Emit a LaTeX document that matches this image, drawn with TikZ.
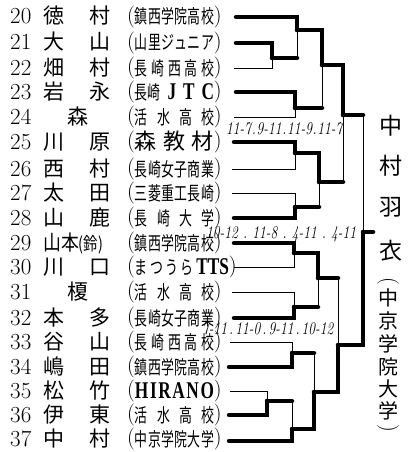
\documentclass[tikz,border=0pt]{standalone}
\usepackage{graphicx}
\usepackage{fontspec}
\newfontfamily\jp{Noto Sans CJK JP}
\newfontfamily\jpc[FakeStretch=0.68]{Noto Sans CJK JP}
\newfontfamily\latb[FakeStretch=0.72]{Liberation Serif}
\newcommand\lp{\raisebox{1.5pt}{\rmfamily\fontsize{22}{22}\selectfont(}}
\newcommand\rp{\raisebox{1.5pt}{\rmfamily\fontsize{22}{22}\selectfont)}}
\newcommand\afbox[2][79pt]{\lp\makebox[#1][s]{#2}\rp}
\newcommand\lb[1]{{\latb\bfseries\fontsize{24}{24}\selectfont #1}}
\newcommand\scx[2]{\scalebox{0.75}[1]{\makebox[#1][s]{#2}}}
\newcommand\prow[6]{%
  \node[num] (n#1) at (10,{#2+7}) {#1};
  \node[nm] (f#1) at (54,{#2+7}) {#3};
  \node[nm] (g#1) at (100,{#2+7}) {#4};
  \node[af] (h#1) at (127,{#2+7}) {\afbox{#5}};
  \coordinate (r#1) at (#6,#2);
}
\begin{document}
\begin{tikzpicture}[x=1pt,y=-1pt,
  thk/.style={line width=4.5pt,line cap=round},
  thn/.style={line width=1pt},
  num/.style={anchor=base west,inner sep=0pt,font=\rmfamily\fontsize{23}{23}\selectfont},
  nm/.style={anchor=base,inner sep=0pt,font=\fontsize{21}{21}\selectfont\jp},
  af/.style={anchor=base west,inner sep=0pt,font=\fontsize{19}{19}\selectfont\jpc},
  sc/.style={anchor=base west,inner sep=0pt,font=\rmfamily\itshape\fontsize{18}{18}\selectfont},
  win/.style={inner sep=0pt,font=\fontsize{23}{23}\selectfont\jp},
  club/.style={inner sep=0pt,font=\fontsize{20}{20}\selectfont\jp},
  vpar/.style={inner sep=0pt,rotate=-90,font=\rmfamily\fontsize{22}{22}\selectfont}]
\useasboundingbox (0,0) rectangle (414,452);
% ---- entries ----
\prow{20}{17}{徳}{村}{鎮\hfill 西\hfill 学\hfill 院\hfill 高\hfill 校}{236}
\prow{21}{43}{大}{山}{山\hfill 里\hfill ジ\hfill ュ\hfill ニ\hfill ア}{236}
\prow{22}{68}{畑}{村}{長\hfill 崎\hfill 西\hfill 高\hfill 校}{234}
\prow{23}{92}{岩}{永}{長崎\hfill\lb{J}\hfill\lb{T}\hfill\lb{C}}{236}
\node[num] (n24) at (10,124) {24};
\node[nm] (f24) at (78,124) {森};
\node[af] (h24) at (127,124) {\afbox{活\hfill 水\hfill 高\hfill 校}};
\coordinate (r24) at (234,117);
\prow{25}{142}{川}{原}{{\jp\fontsize{22}{22}\selectfont 森}\hfill{\jp\fontsize{22}{22}\selectfont 教}\hfill{\jp\fontsize{22}{22}\selectfont 材}}{234}
\prow{26}{169}{西}{村}{長\hfill 崎\hfill 女\hfill 子\hfill 商\hfill 業}{232}
\prow{27}{193}{太}{田}{三\hfill 菱\hfill 重\hfill 工\hfill 長\hfill 崎}{232}
\prow{28}{218}{山}{鹿}{長\hfill 崎\hfill 大\hfill 学}{234}
\node[num] (n29) at (10,250) {29};
\node[anchor=base west,inner sep=0pt] (f29) at (43,250) {\fontsize{21}{21}\selectfont\jp\scalebox{0.85}[1]{山本}\scalebox{0.8}[1]{\fontsize{18}{18}\selectfont(鈴)}};
\node[af] (h29) at (127,250) {\afbox{鎮\hfill 西\hfill 学\hfill 院\hfill 高\hfill 校}};
\coordinate (r29) at (234,243);
\node[num] (n30) at (10,274) {30};
\node[nm] (f30) at (54,274) {川};
\node[nm] (g30) at (100,274) {口};
\node[af] (h30) at (127,274) {\afbox[94pt]{ま\hfill つ\hfill う\hfill ら\hfill\lb{TTS}}};
\coordinate (r30) at (234,267);
\node[num] (n31) at (10,299) {31};
\node[nm] (f31) at (78,299) {榎};
\node[af] (h31) at (127,299) {\afbox{活\hfill 水\hfill 高\hfill 校}};
\coordinate (r31) at (232,292);
\prow{32}{318}{本}{多}{長\hfill 崎\hfill 女\hfill 子\hfill 商\hfill 業}{234}
\prow{33}{342}{谷}{山}{長\hfill 崎\hfill 西\hfill 高\hfill 校}{230}
\prow{34}{367}{嶋}{田}{鎮\hfill 西\hfill 学\hfill 院\hfill 高\hfill 校}{229}
\prow{35}{391}{松}{竹}{\lb{H}\hfill\lb{I}\hfill\lb{R}\hfill\lb{A}\hfill\lb{N}\hfill\lb{O}}{230}
\prow{36}{415}{伊}{東}{活\hfill 水\hfill 高\hfill 校}{229}
\node[num] (n37) at (10,446) {37};
\node[nm] (f37) at (54,446) {中};
\node[nm] (g37) at (100,446) {村};
\node[af] (h37) at (127,446) {\afbox{中\hfill 京\hfill 学\hfill 院\hfill 大\hfill 学}};
\coordinate (r37) at (229,441);
% ---- match points ----
\coordinate (A) at (272,58);
\coordinate (B) at (297,30);
\coordinate (C) at (295,108);
\coordinate (D) at (322,65);
\coordinate (E) at (295,153);
\coordinate (G) at (295,207);
\coordinate (F) at (319,182);
\coordinate (H) at (343,115);
\coordinate (I) at (294,253);
\coordinate (J) at (294,307);
\coordinate (K) at (318,278);
\coordinate (L) at (292,353);
\coordinate (M) at (267,401);
\coordinate (N) at (292,429);
\coordinate (O) at (314,392);
\coordinate (P) at (338,345);
\coordinate (Q) at (363,232);
\coordinate (W) at (373,232);
% ---- thin (losers) ----
\draw[thn] (r22) -| (A);
\draw[thn] (r24) -| (C);
\draw[thn] (r26) -| (E);
\draw[thn] (r27) -| (G);
\draw[thn] (r30) -| (I);
\draw[thn] (r31) -| (J);
\draw[thn] (r33) -| (L);
\draw[thn] (r35) -| (M);
\draw[thn] (A -| B) -- (B);
\draw[thn] (C -| D) -- (D);
\draw[thn] (G -| F) -- (F);
\draw[thn] (F -| H) -- (H);
\draw[thn] (H -| Q) -- (Q);
\draw[thn] (J -| K) -- (K);
\draw[thn] (K -| P) -- (P);
\draw[thn] (L -| O) -- (O);
\draw[thn] (M -| N) -- (N);
% ---- thick (winners) ----
\draw[thk] (r20) -| (B);
\draw[thk] (r21) -| (A);
\draw[thk] (r23) -| (C);
\draw[thk] (r25) -| (E);
\draw[thk] (r28) -| (G);
\draw[thk] (r29) -| (I);
\draw[thk] (r32) -| (J);
\draw[thk] (r34) -| (L);
\draw[thk] (r36) -| (M);
\draw[thk] (r37) -| (N);
\draw[thk] (A) -- (A -| B);
\draw[thk] (C) -- (C -| D);
\draw[thk] (G) -- (G -| F);
\draw[thk] (F) -- (F -| H);
\draw[thk] (H) -- (H -| Q);
\draw[thk] (J) -- (J -| K);
\draw[thk] (K) -- (K -| P);
\draw[thk] (L) -- (L -| O);
\draw[thk] (M) -- (M -| N);
\draw[thk] (B) -| (D);
\draw[thk] (D) -| (H);
\draw[thk] (E) -| (F);
\draw[thk] (I) -| (K);
\draw[thk] (N) -| (O);
\draw[thk] (O) -| (P);
\draw[thk] (P) -| (Q);
\draw[thk] (Q) -- (W);
% ---- scores ----
\node[sc] (s1) at (226,134) {\scx{155pt}{11-7\hfill.\hfill 9-11\hfill.\hfill 11-9\hfill.\hfill 11-7}};
\node[sc] (s2) at (206,238) {\scx{200pt}{10-12\hfill.\hfill 11-8\hfill.\hfill 4-11\hfill.\hfill 4-11}};
\node[sc] (s3) at (202,334) {\scx{175pt}{7-11\hfill.\hfill 11-0\hfill.\hfill 9-11\hfill.\hfill 10-12}};
% ---- champion ----
\node[win] (w1) at (391,126) {中};
\node[win] (w2) at (391,166) {村};
\node[win] (w3) at (391,207) {羽};
\node[win] (w4) at (391,251) {衣};
\node[vpar] (k0) at (388,281) {(};
\node[club] (k1) at (388,298) {中};
\node[club] (k2) at (388,321) {京};
\node[club] (k3) at (388,344) {学};
\node[club] (k4) at (388,367) {院};
\node[club] (k5) at (388,389) {大};
\node[club] (k6) at (388,411) {学};
\node[vpar] (k7) at (388,428) {)};
\end{tikzpicture}
\end{document}
